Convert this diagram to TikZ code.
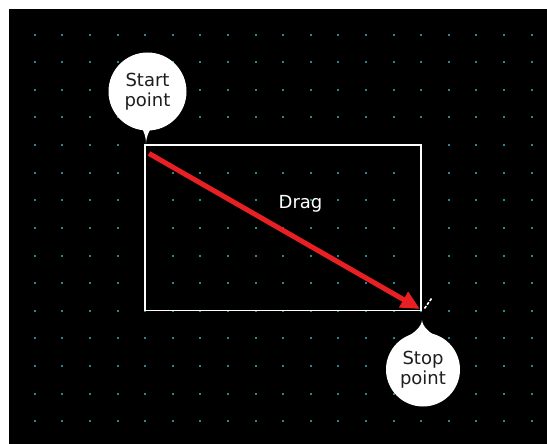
\documentclass[tikz,border=0pt]{standalone}
\usepackage{fontspec}
\setmainfont{DejaVu Sans}
\usetikzlibrary{arrows.meta}
\definecolor{griddot}{RGB}{40,135,145}
\definecolor{dragred}{RGB}{232,32,36}
\definecolor{calltext}{RGB}{30,30,30}
\tikzset{
  bubble/.style={circle, fill=white, draw=none, inner sep=0pt, minimum size=#1, align=center,
    text=calltext, font=\fontsize{18}{20}\selectfont},
  dragarrow/.style={draw=dragred, line width=5pt, -{Triangle[length=19pt,width=17pt]}, shorten >=0pt},
  selbox/.style={draw=white, line width=1.3pt},
  cursormark/.style={draw=white, line width=1.6pt, dash pattern=on 3pt off 1.6pt},
}
\begin{document}
\begin{tikzpicture}[x=1pt,y=-1pt]
\useasboundingbox (0,0) rectangle (547,444);
\fill[black] (9,9) rectangle (547,444);
% grid dots
\foreach \i in {0,...,18}{
  \foreach \j in {0,...,14}{
    \fill[griddot] ({34.7+27.6*\i-1},{34.7+27.6*\j-1}) rectangle ++(2,2);
  }
}
% selection rectangle
\coordinate (tl) at (145.1,145.1);
\coordinate (br) at (421.1,310.7);
\draw[selbox] (tl) rectangle (br);
% drag label
\node[text=white, font=\fontsize{18}{20}\selectfont] (drag) at (300.5,203.5) {Drag};
% arrow
\coordinate (astart) at (149,153.5);
\coordinate (aend) at (420,309);
\draw[dragarrow] (astart) -- (aend);
% cursor mark
\coordinate (m1) at (424.5,308.5);
\coordinate (m2) at (431.5,298.5);
\draw[cursormark] (m1) -- (m2);
% start callout
\node[bubble=78pt] (startc) at (147.5,91.5) {Start\\point};
\coordinate (stip) at (146,143.5);
\fill[white] (137.5,122) .. controls (143,128) and (146,136) .. (stip)
  .. controls (146.5,136) and (149.5,128) .. (156.5,122) -- cycle;
% stop callout
\node[bubble=74pt] (stopc) at (423,369.5) {Stop\\point};
\coordinate (etip) at (422,320);
\fill[white] (406.5,337) .. controls (414,333) and (421.5,327) .. (etip)
  .. controls (422.5,327) and (430,333) .. (437.5,337) -- cycle;
\end{tikzpicture}
\end{document}
